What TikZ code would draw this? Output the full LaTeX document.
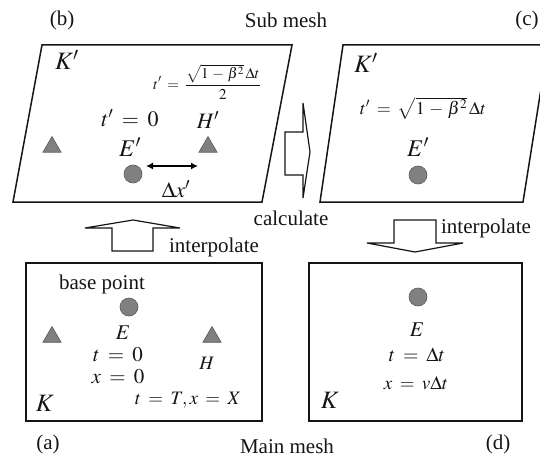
\documentclass[tikz,border=0pt]{standalone}
\usepackage{mathptmx}
\usepackage{fontspec}
\setmainfont{Liberation Serif}
\usepackage{tikz}
\usetikzlibrary{arrows.meta,positioning,shapes.geometric}
\definecolor{cMark}{HTML}{808080}
\definecolor{cEdge}{HTML}{5A5A5A}
\definecolor{cInk}{HTML}{151515}
\newcommand{\wideMath}{\thickmuskip=7mu plus 0mu\relax\medmuskip=4.5mu plus 0mu\relax}
\tikzset{
  mesh/.style={draw=cInk,line width=1.5pt,line join=miter},
  blk/.style={draw=cInk,line width=1.2pt,line join=miter,fill=white},
  lbl/.style={font=\fontsize{21}{24}\selectfont,text=cInk,inner sep=0pt},
  mth/.style={font=\fontsize{#1}{#1}\selectfont\wideMath,text=cInk,inner sep=0pt},
  mth/.default=22,
  dot/.style={circle,draw=cEdge,fill=cMark,line width=0.6pt,minimum size=18pt,inner sep=0pt},
  tri/.style={regular polygon,regular polygon sides=3,draw=cEdge,fill=cMark,line width=0.6pt,minimum size=21pt,inner sep=0pt},
  darr/.style={{Latex[length=7pt,width=7pt]}-{Latex[length=7pt,width=7pt]},line width=2pt,color=black},
}

\begin{document}
\begin{tikzpicture}[x=1pt,y=-1pt]
  \useasboundingbox (0,0) rectangle (540,457);
  % panels
  \draw[mesh] (13,202) -- (262,202) -- (292,45) -- (42,45) -- cycle;
  \draw[mesh] (320,202) -- (523,202) -- (548,45) -- (343,45) -- cycle;
  \draw[mesh] (26,263) rectangle (262,421);
  \draw[mesh] (309,263) rectangle (522,421);
  % titles
  \node[lbl] (labB) at (62,20) {(b)};
  \node[lbl] (subMesh) at (286,20) {Sub mesh};
  \node[lbl] (labC) at (527,20) {(c)};
  \node[lbl] (labA) at (48,444) {(a)};
  \node[lbl] (mainMesh) at (287,446) {Main mesh};
  \node[lbl] (labD) at (498,444) {(d)};
  % markers
  \foreach \n/\x/\y in {triB1/52/147,triB2/208/147,triA1/52/337,triA2/212/337}{\node[tri] (\n) at (\x,\y) {};}
  \foreach \n/\x/\y in {ptB/133/174,ptC/418/175,ptA/129/307,ptD/418/297}{\node[dot] (\n) at (\x,\y) {};}
  % sub mesh (b)
  \node[mth=25] (kB) at (67,60) {$K'$};
  \node[mth=15] (tHalf) at (207,82) {$\displaystyle t'=\frac{\sqrt{1-\beta^2}\,\Delta t}{2}$};
  \node[mth] (tB) at (130,118) {$t'=0$};
  \node[mth] (hB) at (208,120) {$H'$};
  \node[mth=24] (eB) at (130,147) {$E'$};
  \coordinate (dxL) at (146,166);
  \coordinate (dxR) at (198,166);
  \draw[darr] (dxL) -- (dxR);
  \node[mth] (dxB) at (176,189) {$\Delta x'$};
  % sub mesh (c)
  \node[mth=25] (kC) at (366,63) {$K'$};
  \node[mth=18] (tC) at (423,108) {$t'=\sqrt{1-\beta^2}\,\Delta t$};
  \node[mth=24] (eC) at (418,147) {$E'$};
  % main mesh (a)
  \node[lbl] (base) at (102,284) {base point};
  \node[mth=21] (eA) at (123,333) {$E$};
  \node[mth=21] (tA) at (118,355) {$t=0$};
  \node[mth=21] (xA) at (118,377) {$x=0$};
  \node[mth=19] (hA) at (207,363) {$H$};
  \node[mth=25] (kA) at (45,403) {$K$};
  \node[mth=19] (tX) at (188,400) {$t=T,x=X$};
  % main mesh (d)
  \node[mth=21] (eD) at (417,330) {$E$};
  \node[mth=20] (tD) at (417,355) {$t=\Delta t$};
  \node[mth=19] (xD) at (416,383) {$x=v\Delta t$};
  \node[mth=25] (kD) at (330,400) {$K$};
  % block arrows
  \draw[blk] (112,251) -- (112,228) -- (85,228) -- (133,220) -- (180,228) -- (153,228) -- (153,251) -- cycle;
  \node[lbl] (interpA) at (214,247) {interpolate};
  \draw[blk] (285,132) -- (303,132) -- (303,103) -- (310,152) -- (303,198) -- (303,175) -- (285,175) -- cycle;
  \node[lbl] (calc) at (291,218) {calculate};
  \draw[blk] (394,220) -- (436,220) -- (436,243) -- (463,243) -- (415,252) -- (367,243) -- (394,243) -- cycle;
  \node[lbl] (interpD) at (486,228) {interpolate};
\end{tikzpicture}
\end{document}
